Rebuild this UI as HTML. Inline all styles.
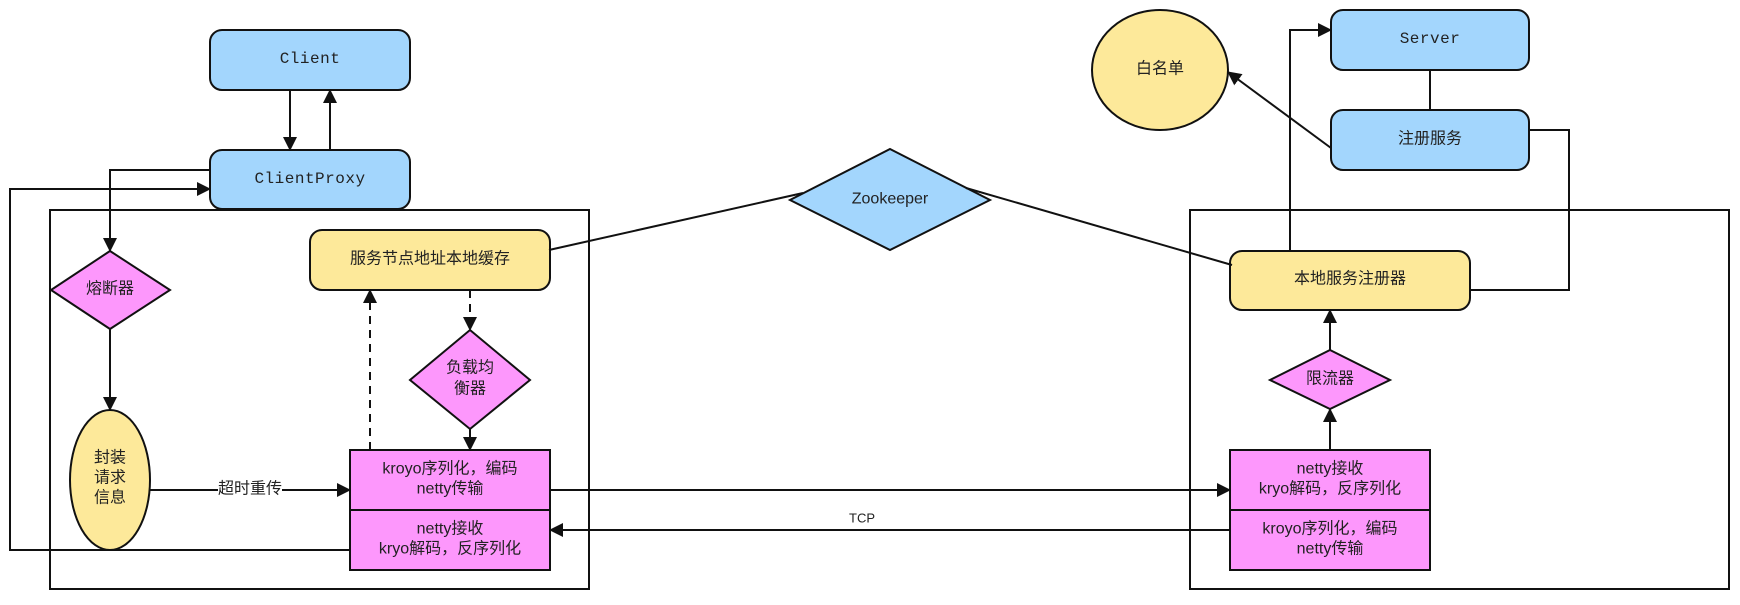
<!DOCTYPE html>
<html><head><meta charset="utf-8"><style>
html,body{margin:0;padding:0;background:#fff;}
svg text{font-family:"Liberation Sans","Noto Sans CJK SC",sans-serif;font-size:16px;fill:#222;text-anchor:middle;dominant-baseline:central;}
.m{font-family:"Liberation Mono","Noto Sans CJK SC",monospace;letter-spacing:0.5px;}
</style></head><body>
<svg width="1740" height="600" viewBox="0 0 1740 600" xmlns="http://www.w3.org/2000/svg">
<defs><marker id="a" markerWidth="14" markerHeight="14" refX="13" refY="7" orient="auto" markerUnits="userSpaceOnUse"><path d="M0,0 L14,7 L0,14 z" fill="#111"/></marker></defs>
<g fill="none" stroke="#111" stroke-width="2">
<rect x="50" y="210" width="539" height="379"/>
<rect x="1190" y="210" width="539" height="379"/>
</g>
<g stroke="#111" stroke-width="2">
<rect x="210" y="30" width="200" height="60" rx="12" fill="#a3d6fd"/>
<rect x="210" y="150" width="200" height="59" rx="12" fill="#a3d6fd"/>
<rect x="310" y="230" width="240" height="60" rx="12" fill="#fde99a"/>
<polygon points="110,251 170,290 110,329 51,290" fill="#fd97fc"/>
<polygon points="470,330 530,380 470,429 410,380" fill="#fd97fc"/>
<ellipse cx="110" cy="480" rx="40" ry="70" fill="#fde99a"/>
<rect x="350" y="450" width="200" height="120" fill="#fd97fc"/>
<line x1="350" y1="510" x2="550" y2="510"/>
<polygon points="890,149 990,200 890,250 790,200" fill="#a3d6fd"/>
<ellipse cx="1160" cy="70" rx="68" ry="60" fill="#fde99a"/>
<rect x="1331" y="10" width="198" height="60" rx="12" fill="#a3d6fd"/>
<rect x="1331" y="110" width="198" height="60" rx="12" fill="#a3d6fd"/>
<rect x="1230" y="251" width="240" height="59" rx="12" fill="#fde99a"/>
<polygon points="1330,350 1390,380 1330,409 1270,380" fill="#fd97fc"/>
<rect x="1230" y="450" width="200" height="120" fill="#fd97fc"/>
<line x1="1230" y1="510" x2="1430" y2="510"/>
</g>
<g fill="none" stroke="#111" stroke-width="2">
<line x1="290" y1="90" x2="290" y2="150" marker-end="url(#a)"/>
<line x1="330" y1="150" x2="330" y2="90" marker-end="url(#a)"/>
<polyline points="210,170 110,170 110,251" marker-end="url(#a)"/>
<polyline points="350,550 10,550 10,189 210,189" marker-end="url(#a)"/>
<line x1="110" y1="329" x2="110" y2="410" marker-end="url(#a)"/>
<line x1="150" y1="490" x2="218" y2="490"/>
<line x1="282" y1="490" x2="350" y2="490" marker-end="url(#a)"/>
<line x1="370" y1="450" x2="370" y2="290" stroke-dasharray="8,6" marker-end="url(#a)"/>
<line x1="470" y1="290" x2="470" y2="330" stroke-dasharray="8,6" marker-end="url(#a)"/>
<line x1="470" y1="429" x2="470" y2="450" marker-end="url(#a)"/>
<line x1="549" y1="250" x2="803" y2="193"/>
<line x1="966" y1="188" x2="1232" y2="265"/>
<line x1="550" y1="490" x2="1230" y2="490" marker-end="url(#a)"/>
<line x1="1230" y1="530" x2="550" y2="530" marker-end="url(#a)"/>
<line x1="1330" y1="450" x2="1330" y2="409" marker-end="url(#a)"/>
<line x1="1330" y1="350" x2="1330" y2="310" marker-end="url(#a)"/>
<polyline points="1290,251 1290,30 1331,30" marker-end="url(#a)"/>
<line x1="1430" y1="70" x2="1430" y2="110"/>
<line x1="1331" y1="148" x2="1228" y2="72" marker-end="url(#a)"/>
<polyline points="1529,130 1569,130 1569,290 1470,290"/>
</g>
<text x="310" y="59" class="m">Client</text>
<text x="310" y="179" class="m">ClientProxy</text>
<text x="430" y="259">服务节点地址本地缓存</text>
<text x="110" y="289">熔断器</text>
<text x="470" y="368">负载均</text>
<text x="470" y="389">衡器</text>
<text x="110" y="458">封装</text>
<text x="110" y="478">请求</text>
<text x="110" y="498">信息</text>
<text x="250" y="489">超时重传</text>
<text x="450" y="469">kroyo序列化，编码</text>
<text x="450" y="489">netty传输</text>
<text x="450" y="529">netty接收</text>
<text x="450" y="549">kryo解码，反序列化</text>
<text x="890" y="199">Zookeeper</text>
<text x="862" y="518" style="font-size:13px">TCP</text>
<text x="1160" y="69">白名单</text>
<text x="1430" y="39" class="m">Server</text>
<text x="1430" y="139">注册服务</text>
<text x="1350" y="279">本地服务注册器</text>
<text x="1330" y="379">限流器</text>
<text x="1330" y="469">netty接收</text>
<text x="1330" y="489">kryo解码，反序列化</text>
<text x="1330" y="529">kroyo序列化，编码</text>
<text x="1330" y="549">netty传输</text>
</svg>
</body></html>
